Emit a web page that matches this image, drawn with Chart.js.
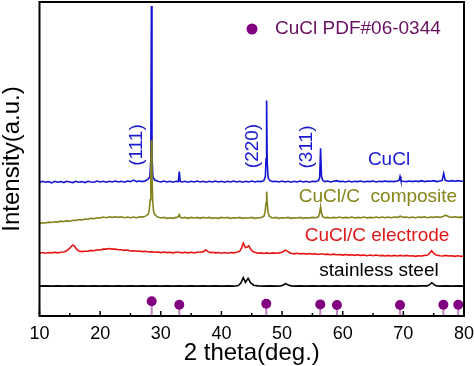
<!DOCTYPE html>
<html>
<head>
<meta charset="utf-8">
<script src="https://cdn.jsdelivr.net/npm/chart.js@4.4.1/dist/chart.umd.min.js"></script>
<style>
  body { margin: 0; background: #fff; }
  canvas { display: block; }
</style>
</head>
<body>
<canvas id="xrd" width="474" height="366"></canvas>
<script>
// 2 theta (deg.) vs intensity (a.u.)
const cuclPattern = [[10,42.5],[10.5,42.9],[11,42.6],[11.5,42.8],[12,42.4],[12.5,42.9],[13,42.6],[13.5,42.8],[14,42.5],[14.5,42.9],[15,42.7],[15.5,42.5],[16,42.9],[16.5,42.6],[17,42.8],[17.5,42.5],[18,42.9],[18.5,42.7],[19,42.6],[19.5,43.0],[20,42.7],[20.5,42.9],[21,42.6],[21.5,42.9],[22,42.7],[22.5,43.0],[23,42.7],[23.5,42.9],[24,42.6],[24.5,43.0],[25,42.8],[25.5,43.3],[26,42.8],[26.5,43.0],[27,42.8],[27.5,43.1],[27.9,43.6],[28.2,44.3],[28.35,49.5],[28.45,98.7],[28.55,51],[28.7,44.2],[29,43.3],[29.5,42.9],[30,42.7],[30.5,43.0],[31,42.7],[31.5,42.9],[32,42.6],[32.5,42.9],[32.9,42.8],[33.05,46.0],[33.2,42.9],[33.5,42.7],[34,42.9],[34.5,42.6],[35,42.9],[35.5,42.7],[36,43.0],[36.5,42.7],[37,42.9],[37.5,42.6],[38,42.9],[38.5,42.7],[39,43.0],[39.5,42.7],[40,42.9],[40.5,42.6],[41,42.9],[41.5,42.7],[42,43.0],[42.5,42.7],[43,42.9],[43.5,42.6],[44,42.9],[44.5,42.7],[45,43.0],[45.5,42.7],[46,42.9],[46.5,42.8],[47,43.1],[47.25,44.5],[47.35,50],[47.45,68.6],[47.55,49],[47.7,44.0],[48,43.1],[48.5,42.8],[49,42.9],[49.5,42.7],[50,43.0],[50.5,42.7],[51,42.9],[51.5,42.6],[52,42.9],[52.5,42.7],[53,43.0],[53.5,42.7],[54,42.9],[54.5,42.6],[55,42.9],[55.5,42.8],[56,43.1],[56.2,44.0],[56.35,53.4],[56.5,44.5],[56.7,43.2],[57,42.8],[57.5,43.0],[58,42.7],[58.5,42.9],[59,43.1],[59.5,42.8],[60,42.9],[60.5,42.7],[61,43.0],[61.5,42.7],[62,42.9],[62.5,42.8],[63,43.0],[63.5,42.7],[64,42.9],[64.5,42.8],[65,43.0],[65.5,42.7],[66,42.9],[66.5,42.8],[67,43.0],[67.5,42.8],[68,42.9],[68.5,42.8],[69,43.0],[69.3,43.2],[69.45,44.4],[69.6,43.1],[70,42.9],[70.5,42.8],[71,43.0],[71.5,42.8],[72,43.0],[72.5,42.8],[73,43.1],[73.5,42.8],[74,43.0],[74.5,42.9],[75,43.1],[75.5,42.8],[76,43.0],[76.4,43.2],[76.65,45.4],[76.9,43.2],[77.5,42.9],[78,43.1],[78.5,42.9],[79,43.1],[79.5,42.9],[80,43.0]]

const compositePattern = [[10,29.5],[10.5,29.7],[11,29.6],[11.5,29.9],[12,29.8],[12.5,30.0],[13,29.9],[13.5,30.2],[14,30.1],[14.5,30.3],[15,30.2],[15.5,30.5],[16,30.4],[16.5,30.7],[17,30.6],[17.5,30.9],[18,30.8],[18.5,31.1],[19,31.0],[19.5,31.3],[20,31.2],[20.5,31.5],[21,31.3],[21.5,31.6],[22,31.4],[22.5,31.6],[23,31.4],[23.5,31.6],[24,31.3],[24.5,31.5],[25,31.3],[25.5,31.5],[26,31.3],[26.5,31.6],[27,31.5],[27.5,31.8],[27.9,32.4],[28.1,33.6],[28.25,37],[28.35,45],[28.45,56],[28.55,45],[28.65,37],[28.8,33.6],[29,32.3],[29.5,31.5],[30,31.2],[30.5,31.4],[31,31.1],[31.5,31.3],[32,31.1],[32.5,31.4],[32.85,31.5],[33.05,32.3],[33.25,31.4],[33.5,31.2],[34,31.4],[34.5,31.1],[35,31.4],[35.5,31.2],[36,31.4],[36.5,31.1],[37,31.4],[37.5,31.2],[38,31.4],[38.5,31.1],[39,31.3],[39.5,31.1],[40,31.4],[40.5,31.2],[41,31.4],[41.5,31.1],[42,31.3],[42.5,31.2],[43,31.4],[43.5,31.1],[44,31.3],[44.5,31.2],[45,31.4],[45.5,31.1],[46,31.3],[46.5,31.3],[47,31.8],[47.2,33],[47.35,36],[47.45,39.6],[47.55,36],[47.7,33],[47.9,31.8],[48.3,31.3],[48.5,31.2],[49,31.4],[49.5,31.1],[50,31.3],[50.5,31.2],[51,31.4],[51.5,31.1],[52,31.3],[52.5,31.2],[53,31.4],[53.5,31.1],[54,31.3],[54.5,31.2],[55,31.4],[55.5,31.3],[56,31.6],[56.2,32.8],[56.35,34.8],[56.5,32.8],[56.7,31.6],[57,31.3],[57.5,31.4],[58,31.2],[58.5,31.4],[59,31.3],[59.5,31.5],[60,31.2],[60.5,31.4],[61,31.3],[61.5,31.5],[62,31.2],[62.5,31.4],[63,31.3],[63.5,31.5],[64,31.2],[64.5,31.4],[65,31.3],[65.5,31.5],[66,31.3],[66.5,31.5],[67,31.3],[67.5,31.5],[68,31.3],[68.5,31.5],[69,31.4],[69.5,31.8],[70,31.4],[70.5,31.5],[71,31.3],[71.5,31.5],[72,31.3],[72.5,31.5],[73,31.4],[73.5,31.6],[74,31.3],[74.5,31.5],[75,31.4],[75.5,31.6],[76,31.4],[76.5,31.7],[77,32.1],[77.5,31.6],[78,31.4],[78.5,31.6],[79,31.4],[79.5,31.5],[80,31.4]]

const electrodePattern = [[10,20.0],[10.5,20.2],[11,20.0],[11.5,20.2],[12,20.1],[12.5,20.3],[13,20.1],[13.5,20.3],[14,20.4],[14.5,20.8],[15,21.6],[15.3,22.3],[15.5,22.6],[15.8,22.2],[16.1,21.3],[16.5,20.7],[17,20.5],[17.5,20.6],[18,20.6],[18.5,20.9],[19,20.8],[19.5,21.1],[20,21.0],[20.5,21.3],[21,21.3],[21.5,21.5],[22,21.3],[22.5,21.3],[23,21.1],[23.5,21.1],[24,20.9],[24.5,21.0],[25,20.7],[25.5,20.8],[26,20.6],[26.5,20.7],[27,20.5],[27.5,20.6],[28,20.4],[28.5,20.5],[29,20.3],[29.5,20.4],[30,20.2],[30.5,20.4],[31,20.2],[31.5,20.3],[32,20.1],[32.5,20.3],[33,20.3],[33.5,20.1],[34,20.3],[34.5,20.1],[35,20.3],[35.5,20.1],[36,20.3],[36.5,20.3],[37,20.5],[37.4,21.0],[37.8,20.5],[38.2,20.2],[38.5,20.3],[39,20.1],[39.5,20.2],[40,20.0],[40.5,20.2],[41,20.0],[41.5,20.2],[42,20.1],[42.5,20.3],[43,20.6],[43.3,21.5],[43.6,23.2],[43.95,21.8],[44.2,21.9],[44.5,22.4],[44.85,21.2],[45.2,20.5],[45.5,20.3],[46,20.0],[46.5,20.1],[47,19.9],[47.5,20.1],[48,19.9],[48.5,20.1],[49,20.0],[49.5,20.1],[50,20.3],[50.3,20.7],[50.6,21.0],[50.9,20.6],[51.3,20.1],[51.5,20.0],[52,19.8],[52.5,20.0],[53,19.8],[53.5,19.9],[54,19.7],[54.5,19.9],[55,19.7],[55.5,19.8],[56,19.6],[56.5,19.8],[57,19.6],[57.5,19.7],[58,19.5],[58.5,19.7],[59,19.5],[59.5,19.6],[60,19.4],[60.5,19.6],[61,19.4],[61.5,19.5],[62,19.3],[62.5,19.5],[63,19.3],[63.5,19.4],[64,19.2],[64.5,19.4],[65,19.2],[65.5,19.4],[66,19.2],[66.5,19.3],[67,19.1],[67.5,19.3],[68,19.1],[68.5,19.3],[69,19.1],[69.5,19.3],[70,19.1],[70.5,19.3],[71,19.1],[71.5,19.2],[72,19.0],[72.5,19.2],[73,19.1],[73.5,19.3],[74,19.4],[74.3,19.9],[74.65,20.8],[75,20.0],[75.4,19.4],[76,19.2],[76.5,19.1],[77,19.3],[77.5,19.1],[78,19.2],[78.5,19.0],[79,19.2],[79.5,19.0],[80,19.1]]

const steelPattern = [[10,9.5],[11,9.6],[12,9.5],[13,9.6],[14,9.5],[15,9.6],[16,9.5],[17,9.6],[18,9.5],[19,9.6],[20,9.5],[21,9.6],[22,9.5],[23,9.6],[24,9.5],[25,9.6],[26,9.5],[27,9.6],[28,9.5],[29,9.6],[30,9.5],[31,9.6],[32,9.5],[33,9.6],[34,9.5],[35,9.6],[36,9.5],[37,9.6],[38,9.5],[39,9.6],[40,9.5],[41,9.6],[42,9.5],[42.8,9.7],[43.2,10.5],[43.6,12.2],[43.95,10.7],[44.4,12.0],[44.8,10.6],[45.3,9.8],[46,9.6],[47,9.5],[48,9.6],[49,9.5],[49.8,9.6],[50.2,9.9],[50.6,10.3],[51,9.9],[51.5,9.6],[52,9.5],[53,9.6],[54,9.5],[55,9.6],[56,9.5],[57,9.6],[58,9.5],[59,9.6],[60,9.5],[61,9.6],[62,9.5],[63,9.6],[64,9.5],[65,9.6],[66,9.5],[67,9.6],[68,9.5],[69,9.6],[70,9.5],[71,9.6],[72,9.5],[73,9.6],[73.9,9.6],[74.3,9.9],[74.7,10.6],[75.1,9.9],[75.5,9.6],[76,9.5],[77,9.6],[78,9.5],[79,9.6],[80,9.5]]

// CuCl PDF#06-0344 reference lines
const pdfTheta = [28.5, 33.05, 47.4, 56.3, 59.05, 69.45, 76.6, 79.05]
const pdfInt = [4.7, 3.6, 3.9, 3.7, 3.5, 3.5, 3.6, 3.6]

const xTicks = [10, 20, 30, 40, 50, 60, 70, 80]

const toXY = (arr) => arr.map(p => ({x: p[0], y: p[1]}))
const pdfPoints = pdfTheta.map((t, i) => ({x: t, y: pdfInt[i]}))

const FONT = "Arial, 'Liberation Sans', sans-serif"

const line = (label, data, color) => ({
    type: "line",
    label: label,
    data: toXY(data),
    borderColor: color,
    borderWidth: 1.6,
    pointRadius: 0,
    tension: 0,
    fill: false
})

// frame, inward ticks and text labels
const decor = {
    id: "decor",
    afterDraw(chart) {
        const ctx = chart.ctx
        const a = chart.chartArea
        const sx = chart.scales.x
        ctx.save()
        ctx.strokeStyle = "#000"
        ctx.lineWidth = 2
        ctx.strokeRect(a.left, a.top, a.right - a.left, a.bottom - a.top)
        ctx.lineWidth = 1.5
        sx.ticks.forEach(t => {
            const px = sx.getPixelForValue(t.value)
            const len = t.value % 10 === 0 ? 5 : 3
            ctx.beginPath()
            ctx.moveTo(px, a.bottom)
            ctx.lineTo(px, a.bottom - len)
            ctx.stroke()
        })

        ctx.font = "19px " + FONT
        ctx.textBaseline = "middle"
        ctx.textAlign = "center"
        const rot = (txt, x, y) => {
            ctx.save()
            ctx.translate(x, y)
            ctx.rotate(-Math.PI / 2)
            ctx.fillText(txt, 0, 0)
            ctx.restore()
        }
        ctx.fillStyle = "#1a1ad0"
        rot("(111)", 137, 145)
        rot("(220)", 253, 146)
        rot("(311)", 307, 147)
        ctx.fillText("CuCl", 389, 160)
        ctx.fillStyle = "#86861a"
        ctx.fillText("CuCl/C  composite", 378, 197)
        ctx.fillStyle = "#e01818"
        ctx.fillText("CuCl/C electrode", 377, 236)
        ctx.fillStyle = "#000"
        ctx.fillText("stainless steel", 379, 271)

        // legend
        ctx.fillStyle = "#800080"
        ctx.beginPath()
        ctx.arc(252, 29, 5.5, 0, Math.PI * 2)
        ctx.fill()
        ctx.fillStyle = "#6a1060"
        ctx.textAlign = "left"
        ctx.fillText("CuCl PDF#06-0344", 275, 29)
        ctx.restore()
    }
}

new Chart(document.getElementById("xrd"), {
    data: {
        datasets: [
            {
                type: "scatter",
                label: "CuCl PDF#06-0344",
                data: pdfPoints,
                pointRadius: 5,
                pointBackgroundColor: "#800080",
                pointBorderWidth: 0,
                showLine: false
            },
            {
                type: "bar",
                label: "sticks",
                data: pdfPoints,
                backgroundColor: "#c58ac5",
                barThickness: 1.5
            },
            line("stainless steel", steelPattern, "#000000"),
            line("CuCl/C electrode", electrodePattern, "#e81414"),
            line("CuCl/C composite", compositePattern, "#83831a"),
            line("CuCl", cuclPattern, "#1414d2")
        ]
    },
    options: {
        responsive: false,
        animation: false,
        layout: { autoPadding: false, padding: { top: 2, right: 1, left: 0, bottom: 0 } },
        plugins: { legend: { display: false }, tooltip: { enabled: false } },
        scales: {
            x: {
                type: "linear",
                offset: false,
                min: 10,
                max: 80,
                border: { display: false },
                grid: { display: false, drawTicks: false, offset: false },
                afterFit: (s) => { s.height = 50; s.paddingLeft = 10; s.paddingRight = 10 },
                ticks: {
                    stepSize: 5,
                    padding: 9,
                    color: "#000",
                    font: { family: FONT, size: 18, lineHeight: 1 },
                    autoSkip: false,
                    maxRotation: 0,
                    callback: (v) => xTicks.includes(v) ? String(v) : ""
                },
                title: {
                    display: true,
                    text: "2 theta(deg.)",
                    color: "#000",
                    font: { family: FONT, size: 24, lineHeight: 1 },
                    padding: { top: 0, bottom: 1 }
                }
            },
            y: {
                type: "linear",
                min: 0,
                max: 100,
                border: { display: false },
                grid: { display: false, drawTicks: false },
                afterFit: (s) => { s.width = 39.5; s.paddingTop = 0; s.paddingBottom = 0 },
                ticks: { display: false },
                title: {
                    display: true,
                    text: "Intensity(a.u.)",
                    color: "#000",
                    font: { family: FONT, size: 24, lineHeight: 1 },
                    padding: { top: 0, bottom: 15.5 }
                }
            }
        }
    },
    plugins: [decor]
})
</script>
</body>
</html>
